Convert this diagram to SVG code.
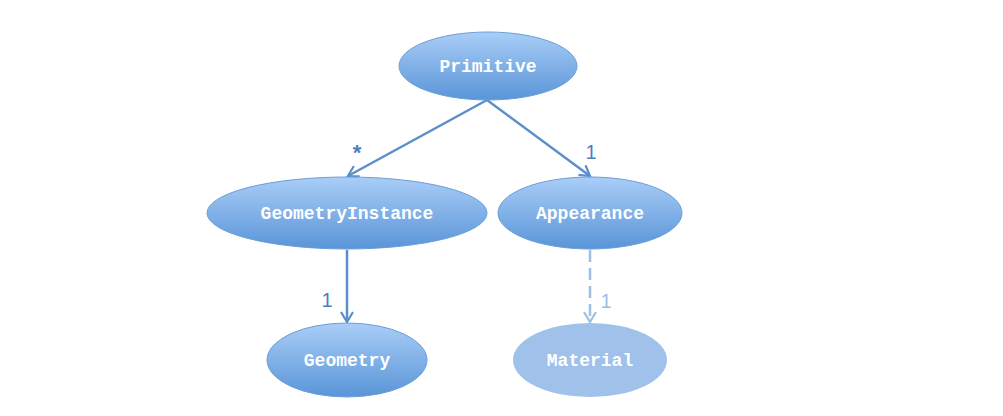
<svg xmlns="http://www.w3.org/2000/svg" width="1003" height="416" viewBox="0 0 1003 416">
<style>
.node{fill:url(#g);stroke:#6b9fd6;stroke-width:1}
.lbl{font-family:"Liberation Mono","Courier New",monospace;font-weight:bold;font-size:18px;fill:#fff;text-anchor:middle}
.conn{stroke:#5b8fcb;stroke-width:2.5;fill:none}
.mult{font-family:"Liberation Sans",Arial,sans-serif;font-size:20px;fill:#4a7fc0;text-anchor:middle}
</style>
<defs>
<linearGradient id="g" x1="0" y1="0" x2="0" y2="1">
<stop offset="0" stop-color="#a9cdf7"/>
<stop offset="1" stop-color="#5a95d8"/>
</linearGradient>
<marker id="a" viewBox="0 0 14 14" refX="12" refY="7" markerWidth="14" markerHeight="14" markerUnits="userSpaceOnUse" orient="auto">
<path d="M2,1 L12,7 L2,13" fill="none" stroke="#5b8fcb" stroke-width="2.2"/>
</marker>
<marker id="b" viewBox="0 0 14 14" refX="12" refY="7" markerWidth="14" markerHeight="14" markerUnits="userSpaceOnUse" orient="auto">
<path d="M2,1 L12,7 L2,13" fill="none" stroke="#9dc0e8" stroke-width="2.2"/>
</marker>
</defs>
<g id="connectors">
<line class="conn" x1="487" y1="100" x2="348" y2="176" marker-end="url(#a)"/>
<line class="conn" x1="487" y1="100" x2="590" y2="176" marker-end="url(#a)"/>
<line class="conn" x1="347" y1="250" x2="347" y2="322" marker-end="url(#a)"/>
<line x1="590" y1="250" x2="590" y2="322" stroke="#9dc0e8" stroke-width="2.5" stroke-dasharray="12,6" marker-end="url(#b)"/>
<text class="mult" x="357" y="160" style="font-weight:bold;font-size:22px">*</text>
<text class="mult" x="591" y="159">1</text>
<text class="mult" x="327" y="307">1</text>
<text class="mult" x="606" y="308" style="fill:#9dc0e8">1</text>
</g>
<g id="primitive">
<ellipse class="node" cx="488" cy="66" rx="89" ry="34"/>
<text class="lbl" x="488" y="72">Primitive</text>
</g>
<g id="geometryinstance">
<ellipse class="node" cx="347" cy="213" rx="140" ry="36"/>
<text class="lbl" x="347" y="219">GeometryInstance</text>
</g>
<g id="appearance">
<ellipse class="node" cx="590" cy="213" rx="92" ry="36"/>
<text class="lbl" x="590" y="219">Appearance</text>
</g>
<g id="geometry">
<ellipse class="node" cx="347" cy="360" rx="80" ry="37"/>
<text class="lbl" x="347" y="366">Geometry</text>
</g>
<g id="material">
<ellipse cx="590" cy="360" rx="77" ry="37" fill="#a0c2ea"/>
<text class="lbl" x="590" y="366">Material</text>
</g>
</svg>
